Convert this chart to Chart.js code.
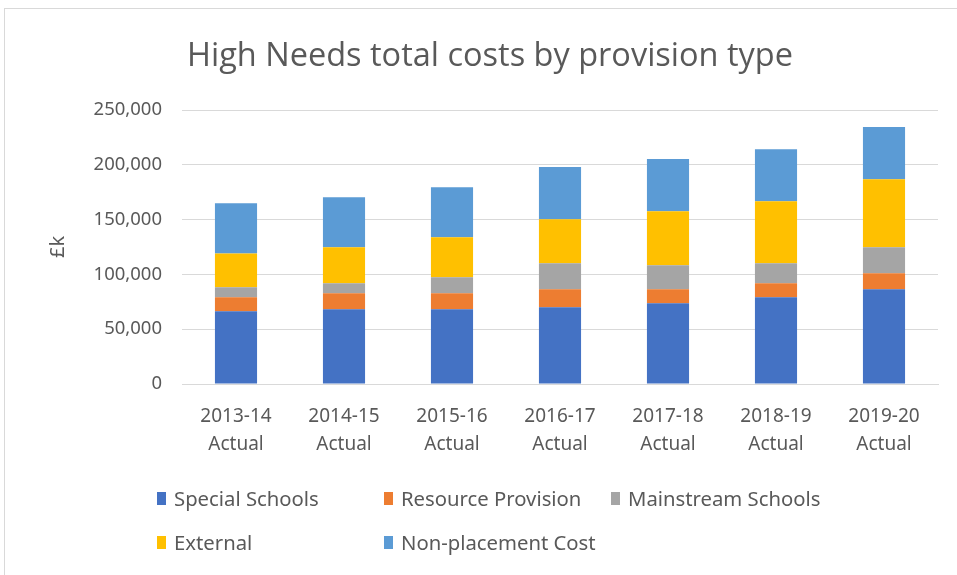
<!DOCTYPE html>
<html>
<head>
<meta charset="utf-8">
<script src="https://cdn.jsdelivr.net/npm/chart.js@4.4.1/dist/chart.umd.min.js"></script>
<style>
  html, body { margin: 0; padding: 0; background: #fff; }
  #wrap { position: relative; width: 957px; height: 575px; }
  #marco { position: absolute; left: 4px; top: 8px; right: -2px; bottom: -2px; border: 1px solid #d9d9d9; }
  #leyenda { position: absolute; left: 0; top: 0; width: 957px; height: 575px; pointer-events: none;
    font-family: "Noto Sans", sans-serif; font-size: 20.3px; color: #595959; }
  .item { position: absolute; display: flex; align-items: center; white-space: nowrap; height: 26px; }
  .caja { width: 9px; height: 13px; margin-right: 8px; }
</style>
</head>
<body>
<div id="wrap">
  <div id="marco"></div>
  <canvas id="grafico" width="957" height="575"></canvas>
  <div id="leyenda"></div>
</div>
<script>
// categorias y valores (en miles de libras)
const periodos = [
  ["2013-14", "Actual"], ["2014-15", "Actual"], ["2015-16", "Actual"], ["2016-17", "Actual"],
  ["2017-18", "Actual"], ["2018-19", "Actual"], ["2019-20", "Actual"]
];
const especiales = [66400, 68200, 68200, 70000, 73700, 79200, 86500];
const recursos = [12800, 14600, 14600, 16500, 12800, 12800, 14600];
const ordinarias = [9100, 9200, 14600, 23700, 21900, 18200, 23700];
const externos = [30700, 32800, 36600, 40200, 49300, 56600, 62100];
const noColocacion = [46000, 45700, 45600, 47500, 47500, 47500, 47500];
const ticksY = [0, 50000, 100000, 150000, 200000, 250000];

const series = [
  { label: "Special Schools", data: especiales, color: "#4472C4" },
  { label: "Resource Provision", data: recursos, color: "#ED7D31" },
  { label: "Mainstream Schools", data: ordinarias, color: "#A5A5A5" },
  { label: "External", data: externos, color: "#FFC000" },
  { label: "Non-placement Cost", data: noColocacion, color: "#5B9BD5" }
];

const gris = "#595959";

new Chart(document.getElementById("grafico"), {
  type: "bar",
  data: {
    labels: periodos,
    datasets: series.map((s) => ({
      label: s.label,
      data: s.data,
      backgroundColor: s.color,
      borderWidth: 0,
      barPercentage: 0.39,
      categoryPercentage: 1
    }))
  },
  options: {
    responsive: false,
    animation: false,
    layout: { padding: { left: 42, right: 19, top: 37, bottom: 111 } },
    plugins: {
      legend: { display: false },
      tooltip: { enabled: false },
      title: {
        display: true,
        text: "High Needs total costs by provision type",
        color: gris,
        font: { family: "Open Sans", size: 32.5, weight: "normal" },
        padding: { top: 0, bottom: 34 }
      }
    },
    scales: {
      x: {
        stacked: true,
        grid: { display: false },
        border: { color: "#d9d9d9" },
        ticks: { color: gris, font: { family: "Noto Sans", size: 19, lineHeight: 1.5 }, padding: 10 },
        afterFit: (scale) => { scale.height = 80; }
      },
      y: {
        stacked: true,
        min: 0,
        max: 250000,
        afterBuildTicks: (scale) => { scale.ticks = ticksY.map((v) => ({ value: v })); },
        grid: { color: "#d9d9d9", drawTicks: false },
        border: { display: false },
        ticks: {
          color: gris,
          font: { family: "Noto Sans", size: 18.5 },
          padding: 20,
          callback: (v) => v.toLocaleString("en-GB")
        },
        title: {
          display: true,
          text: "£k",
          color: gris,
          font: { family: "Noto Sans", size: 20 }
        },
        afterFit: (scale) => { scale.width = 140; }
      }
    }
  }
});

// leyenda en rejilla, como en la hoja original
const leyenda = document.getElementById("leyenda");
const columnas = [157, 384, 611];
const filas = [498, 542];
series.forEach((s, i) => {
  const div = document.createElement("div");
  div.className = "item";
  div.style.left = columnas[i % 3] + "px";
  div.style.top = (filas[Math.floor(i / 3)] - 13) + "px";
  div.innerHTML = `<span class="caja" style="background:${s.color}"></span>${s.label}`;
  leyenda.appendChild(div);
});
</script>
</body>
</html>
